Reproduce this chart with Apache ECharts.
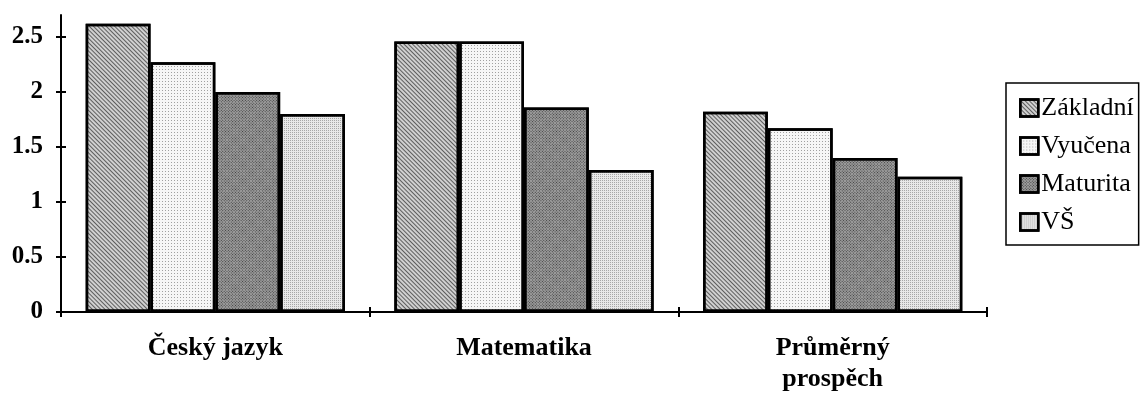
<!DOCTYPE html>
<html>
<head>
<meta charset="utf-8">
<script src="https://cdn.jsdelivr.net/npm/echarts@6/dist/echarts.min.js"></script>
<style>
  html, body { margin: 0; padding: 0; background: #fff; }
  #chart { width: 1142px; height: 397px; }
</style>
</head>
<body>
<div id="chart"></div>
<script>
// Subjects on the x axis
const categories = ['Český jazyk', 'Matematika', 'Průměrný\nprospěch'];

// Average grade by the parents' education
const zakladni = [2.62, 2.46, 1.82];
const vyucena  = [2.27, 2.46, 1.67];
const maturita = [2.00, 1.86, 1.40];
const vs       = [1.80, 1.29, 1.23];

const seriesNames = ['Základní', 'Vyučena', 'Maturita', 'VŠ'];
const yTicks = [0, 0.5, 1, 1.5, 2, 2.5];

const serif = '"Liberation Serif", "Times New Roman", serif';

// Base fill plus a fine print-style texture for each series
const styles = [
  { color: '#d0d0d0', decal: { symbol: 'rect', symbolSize: 1, dashArrayX: [1, 0], dashArrayY: [1, 2], rotation: Math.PI / 4, color: 'rgba(0,0,0,0.55)' } },
  { color: '#f6f6f6', decal: { symbol: 'rect', symbolSize: 1, dashArrayX: [1, 2], dashArrayY: [1, 2], color: 'rgba(0,0,0,0.35)' } },
  { color: '#9c9c9c', decal: { symbol: 'rect', symbolSize: 1, dashArrayX: [1, 1], dashArrayY: [1, 1], color: 'rgba(0,0,0,0.6)' } },
  { color: '#e8e8e8', decal: { symbol: 'rect', symbolSize: 1, dashArrayX: [1, 1], dashArrayY: [1, 1], color: 'rgba(0,0,0,0.28)' } }
];

const chart = echarts.init(document.getElementById('chart'), null, { renderer: 'canvas' });

const bar = (name, data, i) => ({
  name,
  type: 'bar',
  data,
  xAxisIndex: 0,
  yAxisIndex: 0,
  barGap: 0,
  barCategoryGap: '16%',
  itemStyle: { color: styles[i].color, decal: styles[i].decal, borderColor: '#000', borderWidth: 2.5 }
});

const yBase = {
  type: 'value',
  min: 0,
  max: 2.7,
  splitLine: { show: false },
  axisLine: { show: true, lineStyle: { color: '#000', width: 2 } }
};

const xBase = {
  type: 'category',
  data: categories,
  splitLine: { show: false },
  axisLine: { show: true, lineStyle: { color: '#000', width: 2 } }
};

chart.setOption({
  animation: false,
  backgroundColor: '#fff',
  aria: { enabled: true, decal: { show: true } },
  grid: { left: 61, right: 155, top: 15, bottom: 85, containLabel: false },
  legend: {
    orient: 'vertical',
    left: 1006,
    top: 83,
    data: seriesNames,
    itemWidth: 18,
    itemHeight: 17,
    itemGap: 12,
    padding: [12, 5, 10, 13],
    borderColor: '#000',
    borderWidth: 1.5,
    icon: 'rect',
    itemStyle: { borderWidth: 2.5 },
    textStyle: { fontFamily: serif, fontSize: 26, color: '#000', padding: [0, 0, 0, -2] }
  },
  xAxis: [
    Object.assign({}, xBase, {
      axisTick: { show: true, length: 5, lineStyle: { color: '#000', width: 2 } },
      axisLabel: {
        fontFamily: serif, fontWeight: 'bold', fontSize: 26, color: '#000',
        margin: 21, lineHeight: 31, interval: 0
      }
    }),
    Object.assign({}, xBase, {
      position: 'bottom',
      axisLine: { show: false },
      axisTick: { show: true, inside: true, length: 5, lineStyle: { color: '#000', width: 2 } },
      axisLabel: { show: false }
    })
  ],
  yAxis: [
    Object.assign({}, yBase, {
      axisTick: { show: true, length: 5, customValues: yTicks, lineStyle: { color: '#000', width: 2 } },
      axisLabel: {
        customValues: yTicks,
        fontFamily: serif, fontWeight: 'bold', fontSize: 25, color: '#000', margin: 18
      }
    }),
    Object.assign({}, yBase, {
      position: 'left',
      axisLine: { show: false },
      axisTick: { show: true, inside: true, length: 5, customValues: yTicks, lineStyle: { color: '#000', width: 2 } },
      axisLabel: { show: false }
    })
  ],
  series: [
    bar(seriesNames[0], zakladni, 0),
    bar(seriesNames[1], vyucena, 1),
    bar(seriesNames[2], maturita, 2),
    bar(seriesNames[3], vs, 3)
  ]
});
</script>
</body>
</html>
